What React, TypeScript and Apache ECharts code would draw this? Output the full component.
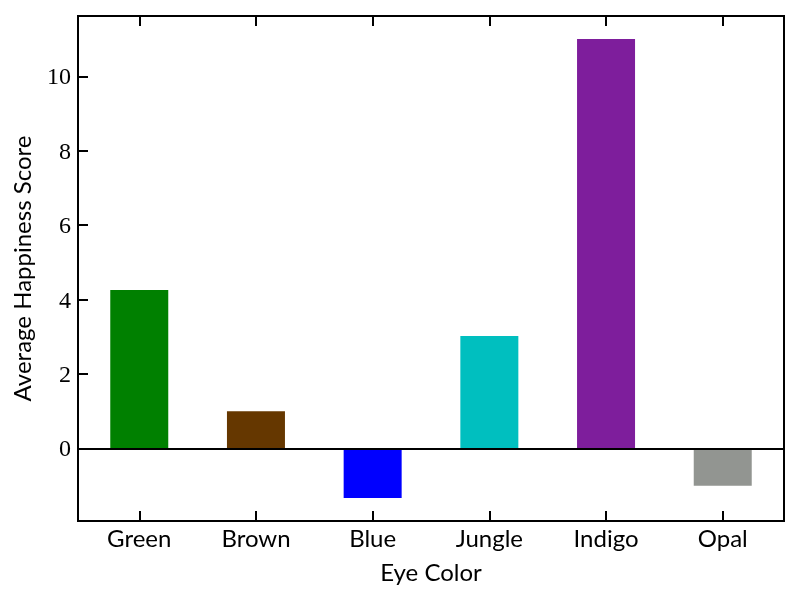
import React, { useEffect, useRef } from "react";
import * as echarts from "echarts";

const categories = ["Green", "Brown", "Blue", "Jungle", "Indigo", "Opal"];
const values = [4.26, 1.0, -1.33, 3.02, 11.0, -1.0];
const barColors = ["#008000", "#653700", "#0000ff", "#00bfbf", "#7e1e9c", "#929591"];
const yTicks = [0, 2, 4, 6, 8, 10];
const xTicks = categories.map((_, i) => i);
const yMin = -1.95;
const yMax = 11.62;
const xMin = -0.525;
const xMax = 5.525;

const SANS = "Lato, 'DejaVu Sans', sans-serif";
const SERIF = "'Liberation Serif', 'DejaVu Serif', serif";

const mkLine = () => ({ show: true, onZero: false, lineStyle: { color: "#000", width: 2 } });
const mkTick = (vals: number[]) => ({
  show: true,
  inside: true,
  length: 10,
  customValues: vals,
  lineStyle: { color: "#000", width: 2 },
});

export default function App() {
  const ref = useRef<HTMLDivElement>(null);
  useEffect(() => {
    if (!ref.current) return;
    const chart = echarts.init(ref.current, undefined, { renderer: "svg" });
    chart.setOption({
      animation: false,
      grid: {
        left: 78,
        right: 16,
        top: 16,
        bottom: 79,
        show: true,
        borderColor: "#000",
        borderWidth: 2,
        backgroundColor: "transparent",
      },
      xAxis: [
        {
          type: "value",
          min: xMin,
          max: xMax,
          position: "bottom",
          axisLine: mkLine(),
          axisTick: mkTick(xTicks),
          axisLabel: {
            color: "#000",
            fontFamily: SANS,
            fontSize: 24,
            margin: 4,
            customValues: xTicks,
            formatter: (v: number) => categories[Math.round(v)] ?? "",
          },
          name: "Eye Color",
          nameLocation: "middle",
          nameGap: 38,
          nameTextStyle: { color: "#000", fontFamily: SANS, fontSize: 24 },
          splitLine: { show: false },
        },
        {
          type: "value",
          min: xMin,
          max: xMax,
          position: "top",
          axisLine: mkLine(),
          axisTick: mkTick(xTicks),
          axisLabel: { show: false },
          splitLine: { show: false },
        },
      ],
      yAxis: {
        type: "value",
        min: yMin,
        max: yMax,
        axisLine: mkLine(),
        axisTick: mkTick(yTicks),
        axisLabel: { color: "#000", fontFamily: SERIF, fontSize: 24, margin: 7, customValues: yTicks },
        splitLine: { show: false },
        name: "Average Happiness Score",
        nameLocation: "middle",
        nameGap: 45,
        nameTextStyle: { color: "#000", fontFamily: SANS, fontSize: 24 },
      },
      series: [
        {
          type: "bar",
          xAxisIndex: 0,
          yAxisIndex: 0,
          barWidth: 58,
          data: values.map((v, i) => ({ value: [i, v], itemStyle: { color: barColors[i] } })),
          markLine: {
            silent: true,
            symbol: ["none", "none"],
            label: { show: false },
            lineStyle: { color: "#000", width: 2, type: "solid" },
            emphasis: { disabled: true },
            data: [{ yAxis: 0 }],
          },
        },
      ],
    });
    return () => chart.dispose();
  }, []);
  return <div ref={ref} style={{ position: "fixed", left: 0, top: 0, width: 800, height: 600 }} />;
}
